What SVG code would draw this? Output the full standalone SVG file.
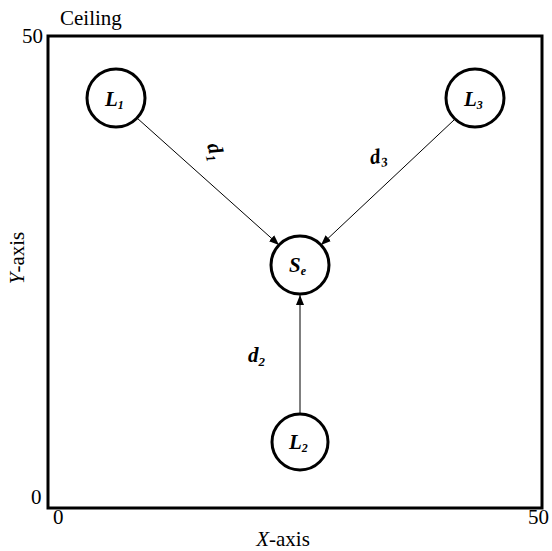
<svg xmlns="http://www.w3.org/2000/svg" width="552" height="551" viewBox="0 0 552 551">
<style>
text{font-family:"Liberation Serif","Times New Roman",serif;fill:#000}
.ax{font-size:21px}
.lb{font-size:21px;font-weight:bold;font-style:italic}
.node circle{fill:#fff;stroke:#000;stroke-width:3}
.conn line{stroke:#000;stroke-width:1;marker-end:url(#ah)}
</style>
<defs>
<marker id="ah" viewBox="0 0 10 10" refX="10" refY="5" markerWidth="10" markerHeight="10" markerUnits="userSpaceOnUse" orient="auto">
<path d="M0,1 L10,5 L0,9 z" fill="#000"/>
</marker>
</defs>
<rect x="48" y="36" width="494" height="472" fill="none" stroke="#000" stroke-width="3"/>
<text class="ax" x="60" y="25">Ceiling</text>
<text class="ax" x="22" y="43">50</text>
<text class="ax" x="31" y="504">0</text>
<text class="ax" x="53" y="524">0</text>
<text class="ax" x="528" y="524">50</text>
<text class="ax" x="283" y="546" text-anchor="middle"><tspan font-style="italic">X</tspan>-axis</text>
<text class="ax" transform="translate(24,258) rotate(-90)" text-anchor="middle"><tspan font-style="italic">Y</tspan>-axis</text>
<g class="conn" id="connectors">
<line x1="137" y1="118" x2="279" y2="245"/>
<line x1="454" y1="120" x2="321" y2="245"/>
<line x1="300" y1="414" x2="300" y2="295"/>
</g>
<text class="lb" transform="translate(207,145) rotate(75)">d<tspan font-size="13" dy="4">1</tspan></text>
<text class="lb" x="370" y="163" transform="rotate(-8 380 158)">d<tspan font-size="13" dy="4">3</tspan></text>
<text class="lb" x="248" y="362">d<tspan font-size="13" dy="4">2</tspan></text>
<g class="node" id="L1"><circle cx="116" cy="98" r="29"/><text class="lb" x="105" y="106" font-size="19">L<tspan font-size="12" dy="3">1</tspan></text></g>
<g class="node" id="L3"><circle cx="475" cy="98" r="29"/><text class="lb" x="464" y="106" font-size="19">L<tspan font-size="12" dy="3">3</tspan></text></g>
<g class="node" id="Se"><circle cx="300" cy="265" r="29"/><text class="lb" x="289" y="272">S<tspan font-size="12" dy="3">e</tspan></text></g>
<g class="node" id="L2"><circle cx="300" cy="442" r="28"/><text class="lb" x="289" y="449" font-size="19">L<tspan font-size="12" dy="3">2</tspan></text></g>
</svg>
